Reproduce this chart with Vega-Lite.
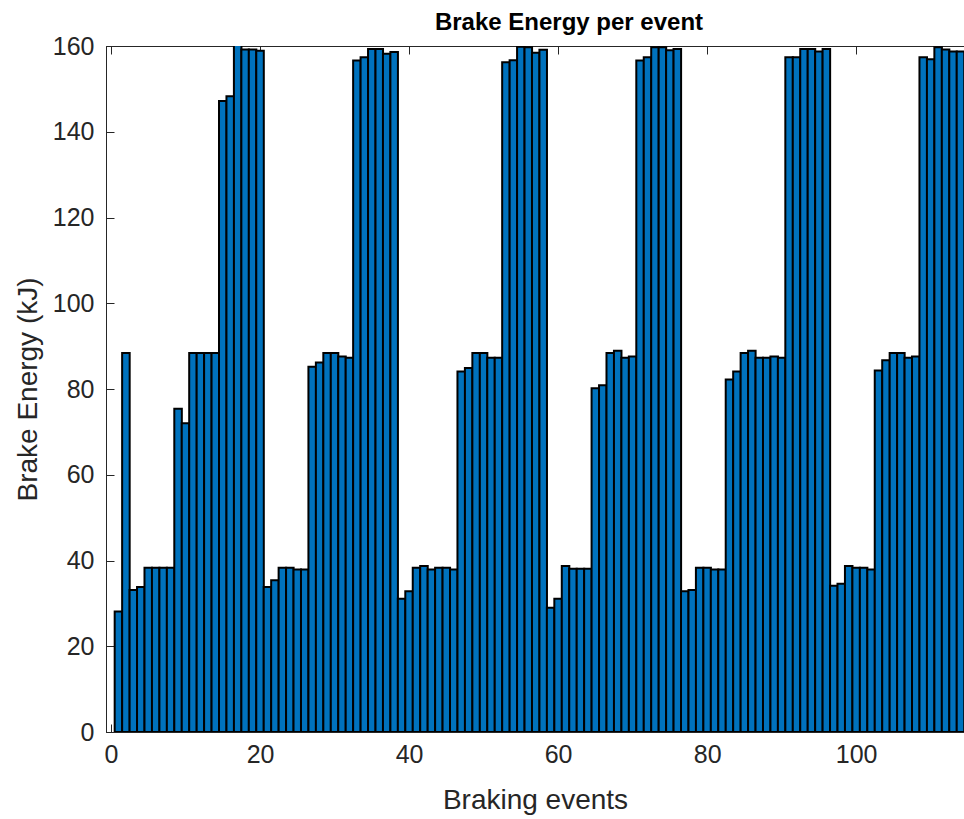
{
  "$schema": "https://vega.github.io/schema/vega-lite/v6.json",
  "width": 858,
  "height": 686,
  "autosize": {"type": "none"},
  "padding": {"left": 106, "top": 46, "right": 0, "bottom": 87},
  "background": "white",
  "title": {
    "text": "Brake Energy per event",
    "font": "Liberation Sans",
    "fontSize": 24,
    "fontWeight": "bold",
    "color": "#000000",
    "anchor": "middle",
    "frame": "group",
    "offset": 10,
    "dx": 34,
    "dy": 11
  },
  "config": {
    "view": {"stroke": "#262626", "strokeWidth": 1},
    "axis": {
      "domainColor": "#262626",
      "domainWidth": 1,
      "tickColor": "#262626",
      "tickWidth": 1,
      "tickSize": -8,
      "grid": false,
      "labelFont": "Liberation Sans",
      "labelFontSize": 25,
      "labelColor": "#262626",
      "titleFont": "Liberation Sans",
      "titleFontSize": 28,
      "titleFontWeight": "normal",
      "titleColor": "#262626"
    }
  },
  "data": {
    "values": [
      {"event": 1, "energy": 28.1}, {"event": 2, "energy": 88.4}, {"event": 3, "energy": 33.1}, {"event": 4, "energy": 33.8},
      {"event": 5, "energy": 38.3}, {"event": 6, "energy": 38.3}, {"event": 7, "energy": 38.3}, {"event": 8, "energy": 38.3},
      {"event": 9, "energy": 75.4}, {"event": 10, "energy": 72.0}, {"event": 11, "energy": 88.4}, {"event": 12, "energy": 88.4},
      {"event": 13, "energy": 88.4}, {"event": 14, "energy": 88.4}, {"event": 15, "energy": 147.2}, {"event": 16, "energy": 148.3},
      {"event": 17, "energy": 160.5}, {"event": 18, "energy": 159.2}, {"event": 19, "energy": 159.2}, {"event": 20, "energy": 158.9},
      {"event": 21, "energy": 33.8}, {"event": 22, "energy": 35.4}, {"event": 23, "energy": 38.3}, {"event": 24, "energy": 38.3},
      {"event": 25, "energy": 37.9}, {"event": 26, "energy": 37.9}, {"event": 27, "energy": 85.2}, {"event": 28, "energy": 86.2},
      {"event": 29, "energy": 88.4}, {"event": 30, "energy": 88.4}, {"event": 31, "energy": 87.6}, {"event": 32, "energy": 87.3},
      {"event": 33, "energy": 156.6}, {"event": 34, "energy": 157.4}, {"event": 35, "energy": 159.3}, {"event": 36, "energy": 159.3},
      {"event": 37, "energy": 158.2}, {"event": 38, "energy": 158.6}, {"event": 39, "energy": 31.1}, {"event": 40, "energy": 32.8},
      {"event": 41, "energy": 38.3}, {"event": 42, "energy": 38.7}, {"event": 43, "energy": 37.9}, {"event": 44, "energy": 38.3},
      {"event": 45, "energy": 38.3}, {"event": 46, "energy": 37.9}, {"event": 47, "energy": 84.1}, {"event": 48, "energy": 84.9},
      {"event": 49, "energy": 88.4}, {"event": 50, "energy": 88.4}, {"event": 51, "energy": 87.3}, {"event": 52, "energy": 87.3},
      {"event": 53, "energy": 156.2}, {"event": 54, "energy": 156.7}, {"event": 55, "energy": 159.8}, {"event": 56, "energy": 159.7},
      {"event": 57, "energy": 158.4}, {"event": 58, "energy": 159.1}, {"event": 59, "energy": 29.0}, {"event": 60, "energy": 31.1},
      {"event": 61, "energy": 38.7}, {"event": 62, "energy": 38.1}, {"event": 63, "energy": 38.1}, {"event": 64, "energy": 38.1},
      {"event": 65, "energy": 80.2}, {"event": 66, "energy": 80.9}, {"event": 67, "energy": 88.4}, {"event": 68, "energy": 88.9},
      {"event": 69, "energy": 87.3}, {"event": 70, "energy": 87.6}, {"event": 71, "energy": 156.6}, {"event": 72, "energy": 157.4},
      {"event": 73, "energy": 159.7}, {"event": 74, "energy": 159.7}, {"event": 75, "energy": 159.0}, {"event": 76, "energy": 159.3},
      {"event": 77, "energy": 32.8}, {"event": 78, "energy": 33.1}, {"event": 79, "energy": 38.3}, {"event": 80, "energy": 38.3},
      {"event": 81, "energy": 37.9}, {"event": 82, "energy": 37.9}, {"event": 83, "energy": 82.2}, {"event": 84, "energy": 84.1},
      {"event": 85, "energy": 88.4}, {"event": 86, "energy": 88.9}, {"event": 87, "energy": 87.3}, {"event": 88, "energy": 87.3},
      {"event": 89, "energy": 87.6}, {"event": 90, "energy": 87.3}, {"event": 91, "energy": 157.4}, {"event": 92, "energy": 157.4},
      {"event": 93, "energy": 159.3}, {"event": 94, "energy": 159.3}, {"event": 95, "energy": 158.7}, {"event": 96, "energy": 159.3},
      {"event": 97, "energy": 34.1}, {"event": 98, "energy": 34.6}, {"event": 99, "energy": 38.7}, {"event": 100, "energy": 38.3},
      {"event": 101, "energy": 38.3}, {"event": 102, "energy": 37.9}, {"event": 103, "energy": 84.3}, {"event": 104, "energy": 86.7},
      {"event": 105, "energy": 88.4}, {"event": 106, "energy": 88.4}, {"event": 107, "energy": 87.3}, {"event": 108, "energy": 87.6},
      {"event": 109, "energy": 157.4}, {"event": 110, "energy": 156.9}, {"event": 111, "energy": 159.7}, {"event": 112, "energy": 159.2},
      {"event": 113, "energy": 158.7}, {"event": 114, "energy": 158.7}
    ]
  },
  "layer": [
    {
      "mark": {"type": "bar", "width": 7.54, "fill": "#0072BD", "stroke": "#000000", "strokeWidth": 2, "clip": true},
      "encoding": {
        "x": {
          "field": "event",
          "type": "quantitative",
          "scale": {"domain": [0, 113.8], "nice": false, "zero": false},
          "axis": {"title": "Braking events", "values": [0, 20, 40, 60, 80, 100], "labelPadding": 18, "titleY": 76, "titleBaseline": "alphabetic"}
        },
        "y": {
          "field": "energy",
          "type": "quantitative",
          "scale": {"domain": [0, 160], "nice": false},
          "axis": {"title": "Brake Energy (kJ)", "values": [0, 20, 40, 60, 80, 100, 120, 140, 160], "labelPadding": 20, "titleX": -70, "titleBaseline": "alphabetic"}
        }
      }
    },
    {
      "mark": {"type": "rule", "opacity": 0},
      "encoding": {
        "x": {
          "field": "event",
          "type": "quantitative",
          "axis": {"orient": "top", "title": null, "labels": false, "values": [0, 20, 40, 60, 80, 100]}
        }
      }
    }
  ],
  "resolve": {"axis": {"x": "independent"}}
}
